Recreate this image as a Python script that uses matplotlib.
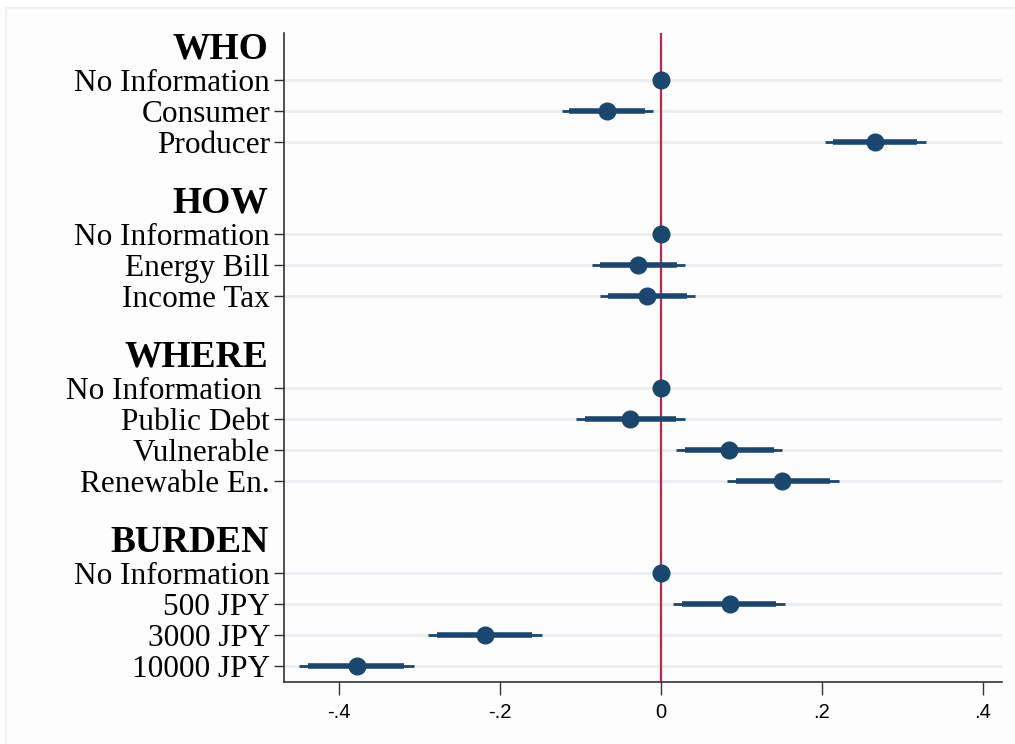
import matplotlib.pyplot as plt
from matplotlib.patches import Rectangle

# Grupos y etiquetas
grupos = ['WHO', 'HOW', 'WHERE', 'BURDEN']
etiquetas = [
    ['No Information', 'Consumer', 'Producer'],
    ['No Information', 'Energy Bill', 'Income Tax'],
    ['No Information ', 'Public Debt', 'Vulnerable', 'Renewable En.'],
    ['No Information', '500 JPY', '3000 JPY', '10000 JPY'],
]

# Coeficientes e intervalos (95% fino, 90% grueso)
coef = [
    [0.0, -0.067, 0.266],
    [0.0, -0.028, -0.017],
    [0.0, -0.038, 0.085, 0.151],
    [0.0, 0.086, -0.218, -0.377],
]
ci95_lo = [
    [0.0, -0.123, 0.204],
    [0.0, -0.085, -0.075],
    [0.0, -0.105, 0.019, 0.082],
    [0.0, 0.015, -0.289, -0.449],
]
ci95_hi = [
    [0.0, -0.010, 0.329],
    [0.0, 0.030, 0.042],
    [0.0, 0.030, 0.151, 0.221],
    [0.0, 0.155, -0.148, -0.307],
]

navy = '#1a476f'
serif = 'Liberation Serif'

fig = plt.figure(figsize=(10.15, 7.44), dpi=100)
fig.patches.append(Rectangle((6 / 1015, -0.01), 1.0, 1.01 - 8 / 744, transform=fig.transFigure,
                             facecolor='#fdfdfd', edgecolor='#eef1f5', linewidth=1.5, zorder=-5))
ax = fig.add_axes([284 / 1015, 1 - 682 / 744, (1002 - 284) / 1015, (682 - 33) / 744])
ax.set_facecolor('none')

fila = 0
ticks = []
tick_labels = []
for g, grupo in enumerate(grupos):
    ax.text(-0.022, fila, grupo, transform=ax.get_yaxis_transform(), ha='right', va='center',
            fontsize=27, fontweight='bold', family=serif)
    fila += 1
    for i, lab in enumerate(etiquetas[g]):
        ticks.append(fila)
        tick_labels.append(lab)
        ax.axhline(fila, color='#e9eef3', linewidth=2, zorder=0)
        b = coef[g][i]
        lo, hi = ci95_lo[g][i], ci95_hi[g][i]
        if hi > lo:
            half90 = (hi - lo) / 2 * 1.645 / 1.96
            mid = (hi + lo) / 2
            ax.plot([lo, hi], [fila, fila], color=navy, linewidth=2, solid_capstyle='butt', zorder=2)
            ax.plot([mid - half90, mid + half90], [fila, fila], color=navy, linewidth=4,
                    solid_capstyle='butt', zorder=2)
        ax.plot(b, fila, 'o', color=navy, markersize=12, zorder=3)
        fila += 1
    fila += 1

ax.axvline(0, color='#c8234a', linewidth=1.6, zorder=1)

ax.set_xlim(-0.468, 0.424)
ax.set_ylim(20.53, -0.525)
ax.set_yticks(ticks)
ax.set_yticklabels(tick_labels, family=serif, fontsize=22.5)
ax.set_xticks([-0.4, -0.2, 0, 0.2, 0.4])
ax.set_xticklabels(['-.4', '-.2', '0', '.2', '.4'], family='Liberation Sans', fontsize=14.5)
ax.tick_params(axis='y', length=7, width=1, color='#333333', pad=3)
ax.tick_params(axis='x', length=9, width=1, color='#333333', pad=6)

for s in ['top', 'right']:
    ax.spines[s].set_visible(False)
for s in ['left', 'bottom']:
    ax.spines[s].set_color('#333333')
    ax.spines[s].set_linewidth(1.2)

plt.savefig('out.png', dpi=100)
